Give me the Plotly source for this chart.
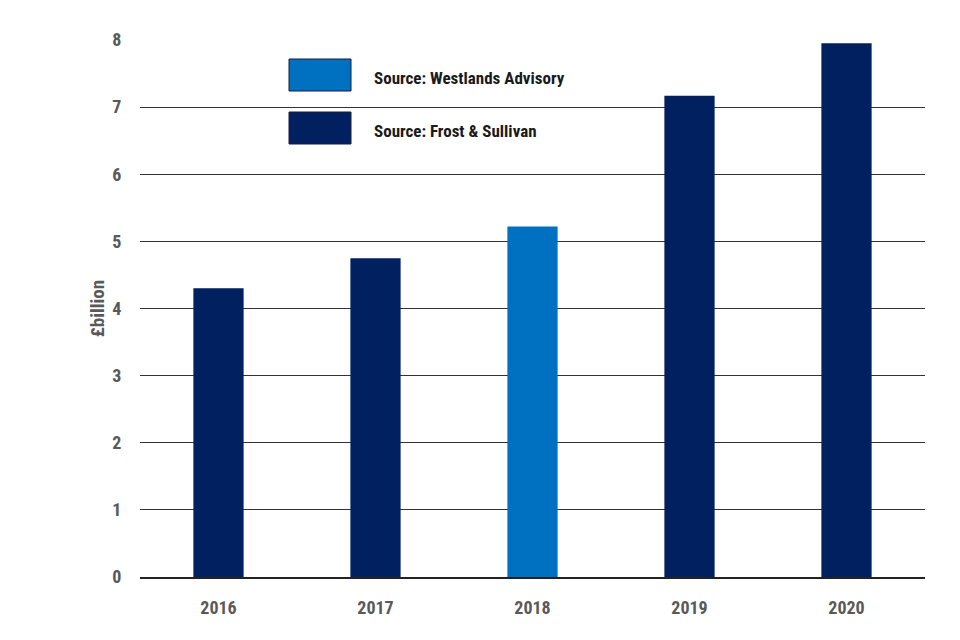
import plotly.graph_objects as go

years = ["2016", "2017", "2018", "2019", "2020"]
frost_values = [4.3, 4.75, None, 7.17, 7.95]
westlands_values = [None, None, 5.22, None, None]
y_ticks = [0, 1, 2, 3, 4, 5, 6, 7, 8]

navy = "#002060"
blue = "#0070C0"
grey = "#595959"
font_family = "Liberation Sans Narrow, Roboto Condensed, Open Sans, sans-serif"

fig = go.Figure()
fig.add_trace(go.Bar(x=years, y=frost_values, name="Source: Frost & Sullivan",
                     marker=dict(color=navy, line=dict(width=0))))
fig.add_trace(go.Bar(x=years, y=westlands_values, name="Source: Westlands Advisory",
                     marker=dict(color=blue, line=dict(width=0))))

# custom legend (large swatches)
legend_items = [("Source: Westlands Advisory", blue), ("Source: Frost & Sullivan", navy)]
x0, x1 = (289 - 140) / 785, (351 - 140) / 785
tops = [(577 - 59) / 537, (577 - 112) / 537]
h = 32 / 537
for (label, col), top in zip(legend_items, tops):
    fig.add_shape(type="rect", xref="paper", yref="paper", x0=x0, x1=x1, y0=top - h, y1=top,
                  fillcolor=col, line=dict(color="#1a1a3a", width=1))
    fig.add_annotation(xref="paper", yref="paper", x=(372 - 140) / 785, y=top - h / 2,
                       yshift=-3, text=label, showarrow=False, xanchor="left", yanchor="middle",
                       font=dict(family=font_family, size=17, color="#1a1a1a", weight="bold"))

fig.update_layout(
    width=960, height=640,
    margin=dict(l=132, r=43, t=32, b=71),
    paper_bgcolor="white", plot_bgcolor="white",
    barmode="overlay", bargap=0.68, showlegend=False,
    font=dict(family=font_family, color=grey, size=16),
    xaxis=dict(showline=True, linecolor="#222", linewidth=1.5, showgrid=False,
               ticks="outside", ticklen=14, tickcolor="white",
               tickfont=dict(size=18, color=grey, weight="bold")),
    yaxis=dict(range=[0, 8], tickvals=y_ticks, showgrid=True, gridcolor="#333", gridwidth=1,
               zeroline=False, showline=False, ticks="outside", ticklen=14, tickcolor="white",
               tickfont=dict(size=18, color=grey, weight="bold"),
               title=dict(text="£billion", standoff=2,
                          font=dict(size=19, color=grey, weight="bold"))),
)

fig.write_html("out.html")
